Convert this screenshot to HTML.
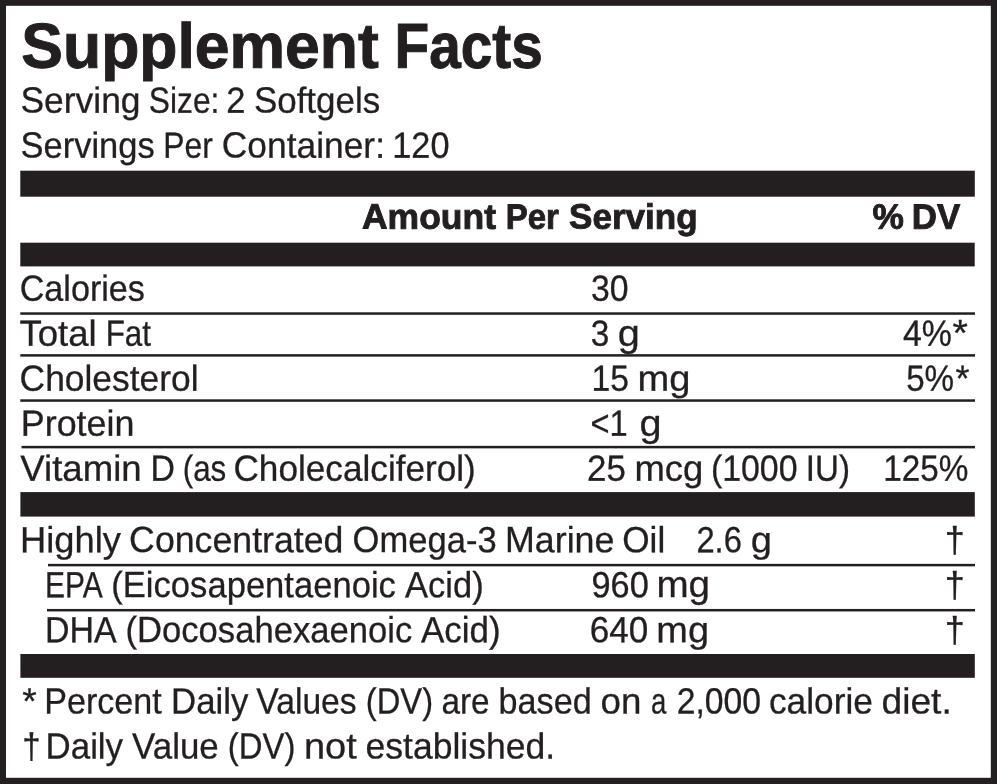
<!DOCTYPE html>
<html lang="en">
<head>
<meta charset="utf-8">
<title>Supplement Facts</title>
<style>
html,body{margin:0;padding:0;background:#fff;}
body{width:1000px;height:784px;overflow:hidden;}
svg{display:block;}
text{font-family:"Liberation Sans",Arial,Helvetica,sans-serif;font-size:36.4px;fill:#231f20;stroke:#231f20;stroke-width:0.3;stroke-linejoin:miter;white-space:pre;}
.b text{font-weight:700;font-size:35.2px;stroke-width:0.9;}
.title text{font-weight:700;font-size:63.6px;stroke-width:1;}
</style>
</head>
<body>
<svg width="1000" height="784" viewBox="0 0 1000 784" role="img" aria-label="Supplement Facts panel">
<rect x="0" y="0" width="1000" height="784" fill="#ffffff"/>
<g fill="#231f20">
<rect x="0" y="0" width="997" height="5.8"/>
<rect x="0" y="0" width="6" height="784"/>
<rect x="990.8" y="0" width="6.2" height="784"/>
<rect x="0" y="777.8" width="997" height="6.2"/>
<rect x="20.3" y="170.7" width="954.5" height="26"/>
<rect x="20.3" y="242.7" width="954.4" height="23.7"/>
<rect x="20.4" y="492.1" width="954.4" height="24.5"/>
<rect x="20.4" y="654" width="954.4" height="23.8"/>
<rect x="20.3" y="312.3" width="954.7" height="2.5"/>
<rect x="20.3" y="354.15" width="954.7" height="2.5"/>
<rect x="20.3" y="399.3" width="954.7" height="2.5"/>
<rect x="21.5" y="445.85" width="953.5" height="2.5"/>
<rect x="48" y="563.85" width="927" height="2.5"/>
<rect x="47" y="608.95" width="928" height="2.5"/>
</g>
<g class="title"><text transform="matrix(0.9823 0.0005 0 1 21.36 67.61)">Supplement</text> <text transform="matrix(0.8919 0.0005 0 1 394.58 67.66)">Facts</text></g>
<g><text transform="matrix(0.9739 0.0005 0 1 20.45 112.62)">Serving</text> <text transform="matrix(0.8726 0.0005 0 1 148.76 112.63)">Size:</text> <text transform="matrix(0.9485 0.0005 0 1 226.37 112.65)">2</text> <text transform="matrix(0.9607 0.0005 0 1 253.89 112.62)">Softgels</text></g>
<g><text transform="matrix(0.9474 0.0005 0 1 20.58 157.62)">Servings</text> <text transform="matrix(0.8764 0.0005 0 1 163.22 157.64)">Per</text> <text transform="matrix(0.9717 0.0005 0 1 221.83 157.61)">Container:</text> <text transform="matrix(0.9424 0.0005 0 1 392.24 157.64)">120</text></g>
<g class="b"><text transform="matrix(1.0080 0.0005 0 1 362.00 228.62)">Amount</text> <text transform="matrix(0.9367 0.0005 0 1 505.71 228.64)">Per</text> <text transform="matrix(0.9963 0.0005 0 1 569.02 228.62)">Serving</text></g>
<g class="b"><text transform="matrix(1.0031 0.0005 0 1 872.40 228.64)">%</text> <text transform="matrix(0.9903 0.0005 0 1 911.80 228.64)">DV</text></g>
<g><text transform="matrix(0.9385 0.0005 0 1 19.67 300.72)">Calories</text> <text transform="matrix(0.9270 0.0005 0 1 590.97 300.74)">30</text></g>
<g><text transform="matrix(1.0042 0.0005 0 1 19.51 345.73)">Total</text> <text transform="matrix(0.8611 0.0005 0 1 105.67 345.74)">Fat</text> <text transform="matrix(0.9170 0.0005 0 1 590.82 345.75)">3</text> <text transform="matrix(1.0903 0.0005 0 1 617.86 345.75)">g</text> <text transform="matrix(0.9304 0.0005 0 1 902.90 345.74)">4%</text><text transform="matrix(1.0859 0.0005 0 1 952.39 345.75)">*</text></g>
<g><text transform="matrix(0.9723 0.0005 0 1 19.61 390.71)">Cholesterol</text> <text transform="matrix(0.9265 0.0005 0 1 591.49 390.74)">15</text> <text transform="matrix(1.0461 0.0005 0 1 637.52 390.74)">mg</text> <text transform="matrix(0.9116 0.0005 0 1 906.13 390.74)">5%</text><text transform="matrix(0.9922 0.0005 0 1 955.55 390.75)">*</text></g>
<g><text transform="matrix(0.9856 0.0005 0 1 20.81 435.72)">Protein</text> <text transform="matrix(0.8974 0.0005 0 1 590.43 435.74)">&lt;1</text> <text transform="matrix(1.0897 0.0005 0 1 639.58 435.75)">g</text></g>
<g><text transform="matrix(1.0062 0.0005 0 1 20.28 480.72)">Vitamin</text> <text transform="matrix(0.9291 0.0005 0 1 150.40 480.74)">D</text> <text transform="matrix(0.8609 0.0005 0 1 182.71 480.74)">(as</text> <text transform="matrix(0.9663 0.0005 0 1 233.48 480.69)">Cholecalciferol)</text> <text transform="matrix(0.9600 0.0005 0 1 587.08 480.74)">25</text> <text transform="matrix(1.0026 0.0005 0 1 634.48 480.73)">mcg</text> <text transform="matrix(0.9306 0.0005 0 1 710.94 480.73)">(1000</text> <text transform="matrix(0.9102 0.0005 0 1 805.82 480.74)">IU)</text> <text transform="matrix(0.9158 0.0005 0 1 883.15 480.73)">125%</text></g>
<g><text transform="matrix(0.9980 0.0005 0 1 20.07 552.13)">Highly</text> <text transform="matrix(0.9807 0.0005 0 1 129.12 552.10)">Concentrated</text> <text transform="matrix(0.9500 0.0005 0 1 352.52 552.11)">Omega-3</text> <text transform="matrix(0.9838 0.0005 0 1 505.01 552.12)">Marine</text> <text transform="matrix(0.9670 0.0005 0 1 622.22 552.14)">Oil</text> <text transform="matrix(0.8984 0.0005 0 1 696.38 552.14)">2.6</text> <text transform="matrix(1.0473 0.0005 0 1 750.70 552.15)">g</text> <text transform="matrix(0.9906 0.0005 0 1 944.80 552.15)">†</text></g>
<g><text transform="matrix(0.8230 0.0005 0 1 44.90 597.13)">EPA</text> <text transform="matrix(0.9510 0.0005 0 1 111.27 597.08)">(Eicosapentaenoic</text> <text transform="matrix(0.9483 0.0005 0 1 405.01 597.13)">Acid)</text> <text transform="matrix(0.9434 0.0005 0 1 591.49 597.14)">960</text> <text transform="matrix(1.0611 0.0005 0 1 656.42 597.14)">mg</text> <text transform="matrix(0.9906 0.0005 0 1 944.80 597.15)">†</text></g>
<g><text transform="matrix(0.9336 0.0005 0 1 45.04 642.13)">DHA</text> <text transform="matrix(0.9517 0.0005 0 1 125.51 642.08)">(Docosahexaenoic</text> <text transform="matrix(0.9603 0.0005 0 1 420.93 642.13)">Acid)</text> <text transform="matrix(0.9638 0.0005 0 1 589.66 642.14)">640</text> <text transform="matrix(1.0422 0.0005 0 1 656.30 642.14)">mg</text> <text transform="matrix(0.9906 0.0005 0 1 944.80 642.15)">†</text></g>
<g><text transform="matrix(1.0210 0.0005 0 1 22.37 713.55)">*</text> <text transform="matrix(0.9367 0.0005 0 1 44.21 713.52)">Percent</text> <text transform="matrix(0.9563 0.0005 0 1 170.99 713.53)">Daily</text> <text transform="matrix(0.9239 0.0005 0 1 256.31 713.52)">Values</text> <text transform="matrix(0.8994 0.0005 0 1 365.80 713.53)">(DV)</text> <text transform="matrix(0.9150 0.0005 0 1 441.42 713.54)">are</text> <text transform="matrix(0.9393 0.0005 0 1 498.56 713.53)">based</text> <text transform="matrix(1.0098 0.0005 0 1 600.49 713.54)">on</text> <text transform="matrix(0.7572 0.0005 0 1 650.88 713.55)">a</text> <text transform="matrix(0.9269 0.0005 0 1 676.70 713.53)">2,000</text> <text transform="matrix(0.9700 0.0005 0 1 768.95 713.52)">calorie</text> <text transform="matrix(1.0215 0.0005 0 1 881.51 713.53)">diet.</text></g>
<g><text transform="matrix(0.9081 0.0005 0 1 22.15 758.55)">†</text> <text transform="matrix(0.9583 0.0005 0 1 45.57 758.53)">Daily</text> <text transform="matrix(0.9587 0.0005 0 1 132.12 758.53)">Value</text> <text transform="matrix(0.9044 0.0005 0 1 227.76 758.53)">(DV)</text> <text transform="matrix(1.0426 0.0005 0 1 303.97 758.54)">not</text> <text transform="matrix(0.9764 0.0005 0 1 365.48 758.50)">established.</text></g>
</svg>
</body>
</html>
